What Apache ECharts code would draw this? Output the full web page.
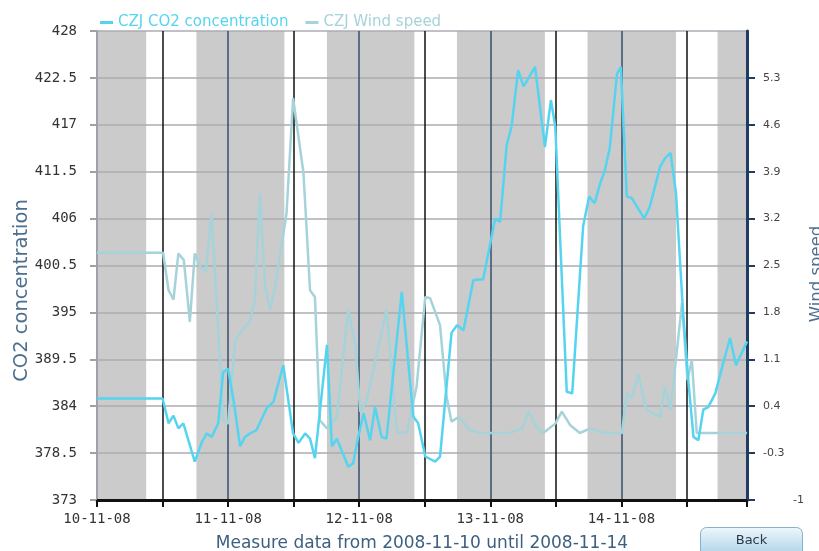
<!DOCTYPE html>
<html>
<head>
<meta charset="utf-8">
<script src="https://cdn.jsdelivr.net/npm/echarts@6/dist/echarts.min.js"></script>
<style>
  html, body { margin: 0; padding: 0; background: #fff; }
  #main { width: 819px; height: 551px; }
</style>
</head>
<body>
<div id="main"></div>
<script>
// x values are hours since 2008-11-10 00:00
var dayLabels = ['10-11-08', '11-11-08', '12-11-08', '13-11-08', '14-11-08'];
var nightStart = [0, 18.2, 42.1, 65.9, 89.8, 113.6];
var nightEnd = [9.0, 34.3, 58.1, 82.0, 106.0, 119];

var co2Hours = [
  0, 12.0, 13.1, 14.0, 14.9, 15.8, 17.9, 19.2, 20.1, 21.0,
  22.2, 23.1, 24.0, 25.0, 26.2, 27.1, 28.0, 29.2, 31.1, 32.3,
  34.1, 35.9, 36.9, 38.1, 39.0, 39.9, 42.1, 43.0, 43.9, 46.0,
  46.9, 47.6, 48.8, 50.0, 50.9, 52.1, 53.0, 55.8, 57.9, 58.8,
  60.1, 61.9, 62.8, 64.9, 65.9, 67.1, 68.9, 70.7, 72.9, 73.8,
  75.0, 75.9, 77.1, 78.1, 80.2, 82.0, 83.1, 83.9, 86.0, 87.0,
  89.0, 90.1, 91.1, 92.1, 93.0, 93.9, 95.2, 95.9, 97.0, 97.9,
  100.2, 101.2, 103.1, 104.0, 105.0, 106.0, 107.3, 108.3, 109.2, 110.1,
  111.0, 111.9, 113.2, 114.7, 115.9, 117.0, 119.0
];
var co2Values = [
  384.9, 384.9, 382.0, 382.9, 381.4, 382.0, 377.5, 379.8, 380.8, 380.4,
  382.0, 388.0, 388.4, 384.7, 379.3, 380.4, 380.8, 381.2, 383.8, 384.5,
  388.8, 380.8, 379.7, 380.8, 380.2, 377.9, 391.2, 379.3, 380.2, 376.9,
  377.3, 379.7, 383.2, 380.0, 383.9, 380.4, 380.2, 397.4, 382.8, 382.0,
  378.1, 377.5, 378.1, 392.6, 393.5, 392.9, 398.8, 398.9, 406.0, 405.6,
  414.6, 416.8, 423.4, 421.5, 423.8, 414.4, 419.9, 416.8, 385.7, 385.5,
  405.1, 408.6, 407.8, 410.1, 411.7, 414.4, 423.0, 423.8, 408.6, 408.4,
  406.0, 407.4, 412.1, 413.1, 413.7, 409.0, 394.9, 386.7, 380.4, 380.0,
  383.6, 383.9, 385.5, 389.2, 392.0, 388.8, 391.6
];

var windHours = [
  0, 12.1, 13.1, 14.0, 14.9, 15.9, 17.0, 17.9, 18.9, 19.9,
  21.0, 23.1, 24.0, 25.3, 26.8, 28.0, 28.9, 29.8, 30.8, 31.7,
  32.6, 34.7, 35.9, 37.8, 39.0, 39.9, 40.8, 42.1, 43.9, 46.0,
  47.3, 48.2, 49.4, 53.0, 54.9, 56.7, 58.5, 60.1, 61.0, 62.8,
  64.0, 64.9, 66.2, 68.3, 70.1, 75.6, 77.8, 79.0, 80.5, 81.7,
  83.9, 85.1, 86.6, 88.4, 90.3, 92.7, 96.1, 97.0, 97.9, 99.1,
  100.6, 103.1, 104.0, 105.0, 107.1, 108.1, 108.9, 109.8, 119.0
];
var windValues = [
  2.69, 2.69, 2.13, 1.99, 2.68, 2.58, 1.66, 2.68, 2.48, 2.41,
  3.28, 0.19, 0.14, 1.39, 1.56, 1.66, 1.99, 3.58, 2.18, 1.84,
  2.18, 3.28, 5.0, 3.88, 2.13, 2.03, 0.19, 0.07, 0.24, 1.84,
  1.31, 0.32, 0.49, 1.84, 0.02, 0.0, 0.69, 2.03, 2.01, 1.61,
  0.54, 0.17, 0.24, 0.04, 0.0, 0.0, 0.07, 0.32, 0.09, 0.0,
  0.14, 0.32, 0.12, 0.0, 0.07, 0.0, 0.0, 0.59, 0.52, 0.87,
  0.34, 0.24, 0.69, 0.34, 1.94, 0.79, 1.09, 0.0, 0.0
];

var co2Color = '#55d4f0';
var windColor = '#a6d3da';

var co2Data = co2Hours.map(function (h, i) { return [h, co2Values[i]]; });
var windData = windHours.map(function (h, i) { return [h, windValues[i]]; });
var nightBands = nightStart.map(function (s, i) {
  return [{ xAxis: s }, { xAxis: nightEnd[i] }];
});

var myChart = echarts.init(document.getElementById('main'));

var option = {
  animation: false,
  backgroundColor: '#fff',
  grid: { left: 97, right: 72, top: 31, bottom: 51, outerBoundsMode: 'none', containLabel: false },
  legend: {
    left: 95,
    top: 10,
    icon: 'rect',
    itemWidth: 13,
    itemHeight: 3,
    itemGap: 17,
    textStyle: { fontSize: 15, fontFamily: 'DejaVu Sans' },
    data: [
      { name: 'CZJ CO2 concentration', textStyle: { color: co2Color } },
      { name: 'CZJ Wind speed', textStyle: { color: windColor } }
    ]
  },
  xAxis: {
    type: 'value',
    min: 0,
    max: 119,
    interval: 12,
    z: 3,
    name: 'Measure data from 2008-11-10 until 2008-11-14',
    nameLocation: 'middle',
    nameGap: 35,
    nameMoveOverlap: false,
    nameTextStyle: { color: '#3d5f80', fontSize: 17, fontFamily: 'DejaVu Sans' },
    axisLine: { onZero: false, lineStyle: { color: '#111', width: 3 } },
    axisTick: { length: 7, lineStyle: { color: '#111', width: 2 } },
    axisLabel: {
      margin: 12,
      color: '#333',
      fontFamily: 'DejaVu Sans Mono',
      fontSize: 14,
      formatter: function (v) {
        return v % 24 === 0 ? dayLabels[v / 24] : '';
      }
    },
    splitLine: { show: true, lineStyle: { color: ['#34506e', '#111'], width: 1.5 } }
  },
  yAxis: [
    {
      type: 'value',
      position: 'left',
      min: 373,
      max: 428,
      interval: 5.5,
      z: 3,
      name: 'CO2 concentration',
      nameLocation: 'middle',
      nameGap: 65,
      nameMoveOverlap: false,
      nameTextStyle: { color: '#4d6f8f', fontSize: 19.5, fontFamily: 'DejaVu Sans', padding: [0, 50, 0, 0] },
      axisLine: { show: true, onZero: false, lineStyle: { color: '#a0a0aa', width: 2 } },
      axisTick: { show: true, length: 7, lineStyle: { color: '#a0a0aa', width: 2 } },
      axisLabel: { margin: 20, color: '#333', fontFamily: 'DejaVu Sans Mono', fontSize: 14 },
      splitLine: { show: true, lineStyle: { color: '#ababb5', width: 1.5 } }
    },
    {
      type: 'value',
      position: 'right',
      min: -1,
      max: 6,
      interval: 0.7,
      z: 3,
      name: 'Wind speed',
      nameLocation: 'middle',
      nameGap: 61,
      nameMoveOverlap: false,
      nameTextStyle: { color: '#4d6f8f', fontSize: 16.5, fontFamily: 'DejaVu Sans', padding: [0, 17, 0, 0] },
      axisLine: { show: true, onZero: false, lineStyle: { color: '#1f3d63', width: 3 } },
      axisTick: { show: true, length: 8, lineStyle: { color: '#1f3d63', width: 2 } },
      axisLabel: {
        margin: 16,
        color: '#444',
        fontSize: 11,
        fontFamily: 'DejaVu Sans',
        showMaxLabel: false,
        formatter: function (v) {
          return v === -1 ? '{far|-1}' : String(v);
        },
        rich: { far: { fontSize: 11, fontFamily: 'DejaVu Sans', color: '#444', padding: [0, 0, 0, 30] } }
      },
      splitLine: { show: false }
    }
  ],
  series: [
    {
      name: 'CZJ CO2 concentration',
      type: 'line',
      yAxisIndex: 0,
      data: co2Data,
      showSymbol: false,
      z: 6,
      lineStyle: { color: co2Color, width: 2.5 },
      itemStyle: { color: co2Color }
    },
    {
      name: 'CZJ Wind speed',
      type: 'line',
      yAxisIndex: 1,
      data: windData,
      showSymbol: false,
      z: 5,
      lineStyle: { color: windColor, width: 2.5 },
      itemStyle: { color: windColor }
    },
    {
      name: 'night',
      type: 'line',
      yAxisIndex: 0,
      data: [],
      z: 1,
      markArea: {
        silent: true,
        z: 1,
        itemStyle: { color: '#cbcbcb' },
        data: nightBands
      }
    }
  ],
  graphic: [
    {
      type: 'group',
      left: 700,
      top: 527,
      children: [
        {
          type: 'rect',
          shape: { x: 0, y: 0, width: 102, height: 30, r: 6 },
          style: {
            fill: new echarts.graphic.LinearGradient(0, 0, 0, 1, [
              { offset: 0, color: '#eef7fc' },
              { offset: 1, color: '#a7cee6' }
            ]),
            stroke: '#88b2cc',
            lineWidth: 1
          }
        },
        {
          type: 'text',
          x: 51,
          y: 13,
          style: {
            text: 'Back',
            fill: '#2a3a4a',
            font: '13px DejaVu Sans',
            align: 'center',
            verticalAlign: 'middle',
            textAlign: 'center',
            textVerticalAlign: 'middle'
          }
        }
      ]
    }
  ]
};

myChart.setOption(option);
</script>
</body>
</html>
